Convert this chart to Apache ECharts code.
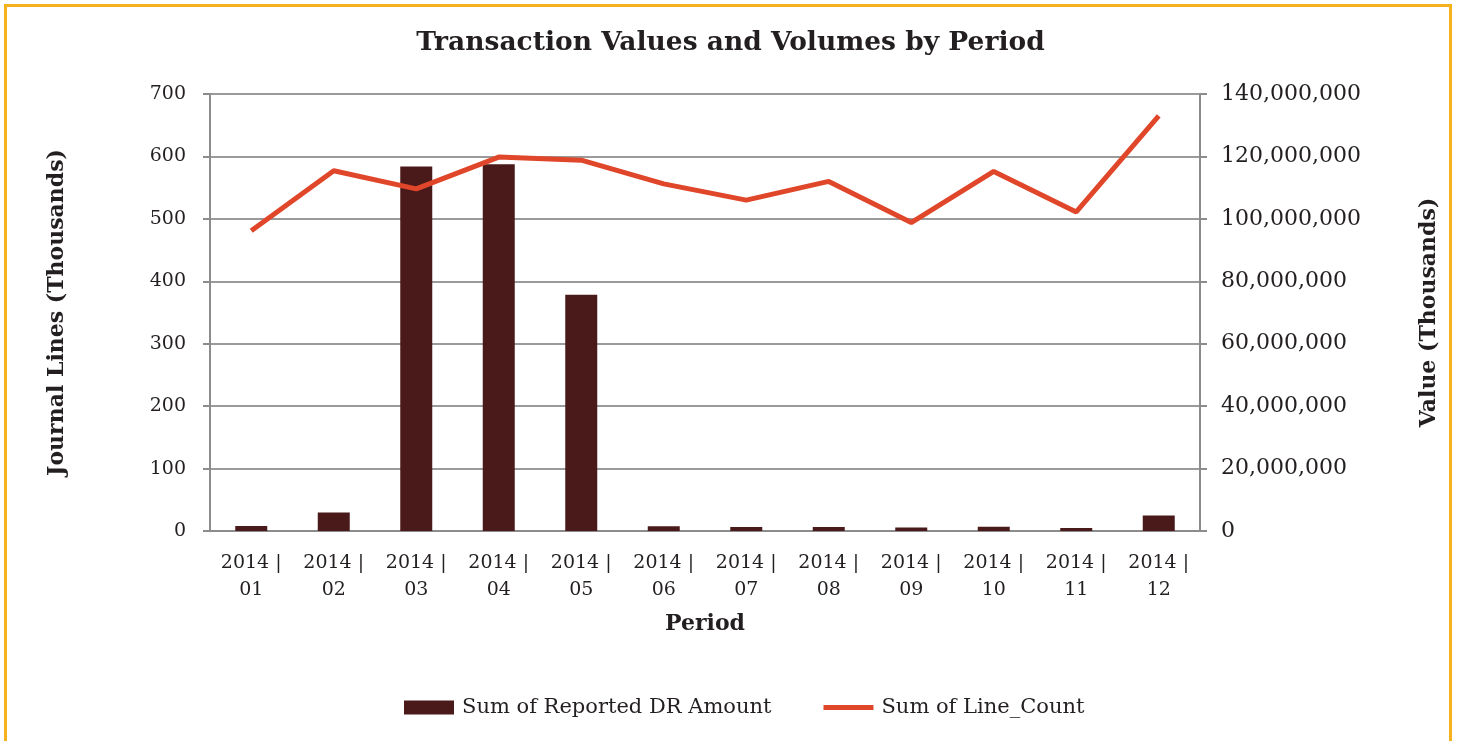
<!DOCTYPE html>
<html>
<head>
<meta charset="utf-8">
<script src="https://cdn.jsdelivr.net/npm/echarts@6/dist/echarts.min.js"></script>
<style>
  html, body { margin: 0; padding: 0; background: #fff; }
  #frame {
    position: absolute; left: 4px; top: 4px; width: 1448px; height: 760px;
    border: 3px solid #F6B21C; box-sizing: border-box;
  }
  #chart { position: absolute; left: 0; top: 0; width: 1461px; height: 741px; }
</style>
</head>
<body>
<div id="frame"></div>
<div id="chart"></div>
<script>
// periods on the x axis
var periods = ["2014 |\n01", "2014 |\n02", "2014 |\n03", "2014 |\n04", "2014 |\n05", "2014 |\n06",
  "2014 |\n07", "2014 |\n08", "2014 |\n09", "2014 |\n10", "2014 |\n11", "2014 |\n12"];

// journal lines, thousands (left axis)
var lineCount = [481, 577, 548, 599, 594, 556, 530, 560, 494, 576, 511, 665];

// reported DR amount, thousands (right axis)
var drAmount = [1600000, 5900000, 116800000, 117500000, 75700000, 1500000,
  1300000, 1300000, 1100000, 1400000, 1000000, 5000000];

var serif = "DejaVu Serif";
var axisGrey = "#8c8c8c";

function commas(v) {
  return String(v).replace(/\B(?=(\d{3})+(?!\d))/g, ",");
}

var chart = echarts.init(document.getElementById("chart"));
chart.setOption({
  animation: false,
  title: {
    text: "Transaction Values and Volumes by Period",
    left: "center",
    top: 25,
    textStyle: { fontFamily: serif, fontWeight: "bold", fontSize: 26.5, color: "#231f20" }
  },
  legend: {
    top: 692,
    left: 399,
    itemWidth: 50,
    itemHeight: 14,
    itemGap: 52,
    textStyle: { fontFamily: serif, fontSize: 21, color: "#231f20", padding: [0, 0, 0, 3] },
    data: [
      { name: "Sum of Reported DR Amount", icon: "rect" },
      { name: "Sum of Line_Count", icon: "path://M0 0H50V5H0Z" }
    ]
  },
  grid: { left: 210, right: 261, top: 94, height: 437 },
  xAxis: {
    type: "category",
    data: periods,
    name: "Period",
    nameLocation: "middle",
    nameGap: 82,
    nameTextStyle: { fontFamily: serif, fontWeight: "bold", fontSize: 22, color: "#231f20" },
    axisLine: { lineStyle: { color: axisGrey, width: 2 } },
    axisTick: { length: 8, lineStyle: { color: axisGrey, width: 2 } },
    axisLabel: { fontFamily: serif, fontSize: 19, color: "#231f20", lineHeight: 27, margin: 19 }
  },
  yAxis: [
    {
      type: "value",
      min: 0, max: 700, interval: 100,
      name: "Journal Lines (Thousands)",
      nameLocation: "middle",
      nameGap: 142,
      nameTextStyle: { fontFamily: serif, fontWeight: "bold", fontSize: 22, color: "#231f20" },
      axisLine: { show: true, lineStyle: { color: axisGrey, width: 2 } },
      axisTick: { show: true, length: 7, lineStyle: { color: axisGrey, width: 2 } },
      axisLabel: { fontFamily: serif, fontSize: 19, color: "#231f20", margin: 24 },
      splitLine: { lineStyle: { color: "#9a9a9a", width: 2 } }
    },
    {
      type: "value",
      min: 0, max: 140000000, interval: 20000000,
      name: "Value (Thousands)",
      nameLocation: "middle",
      nameGap: 218,
      nameTextStyle: { fontFamily: serif, fontWeight: "bold", fontSize: 22, color: "#231f20" },
      axisLine: { show: true, lineStyle: { color: axisGrey, width: 2 } },
      axisTick: { show: true, length: 7, lineStyle: { color: axisGrey, width: 2 } },
      axisLabel: { fontFamily: serif, fontSize: 22, color: "#231f20", margin: 21, formatter: commas },
      splitLine: { show: false }
    }
  ],
  series: [
    {
      name: "Sum of Reported DR Amount",
      type: "bar",
      yAxisIndex: 1,
      data: drAmount,
      barWidth: 32,
      itemStyle: { color: "#4a1a1b" }
    },
    {
      name: "Sum of Line_Count",
      type: "line",
      yAxisIndex: 0,
      data: lineCount,
      symbol: "none",
      z: 5,
      lineStyle: { color: "#e0472a", width: 5 },
      itemStyle: { color: "#e0472a" }
    }
  ]
});
</script>
</body>
</html>
